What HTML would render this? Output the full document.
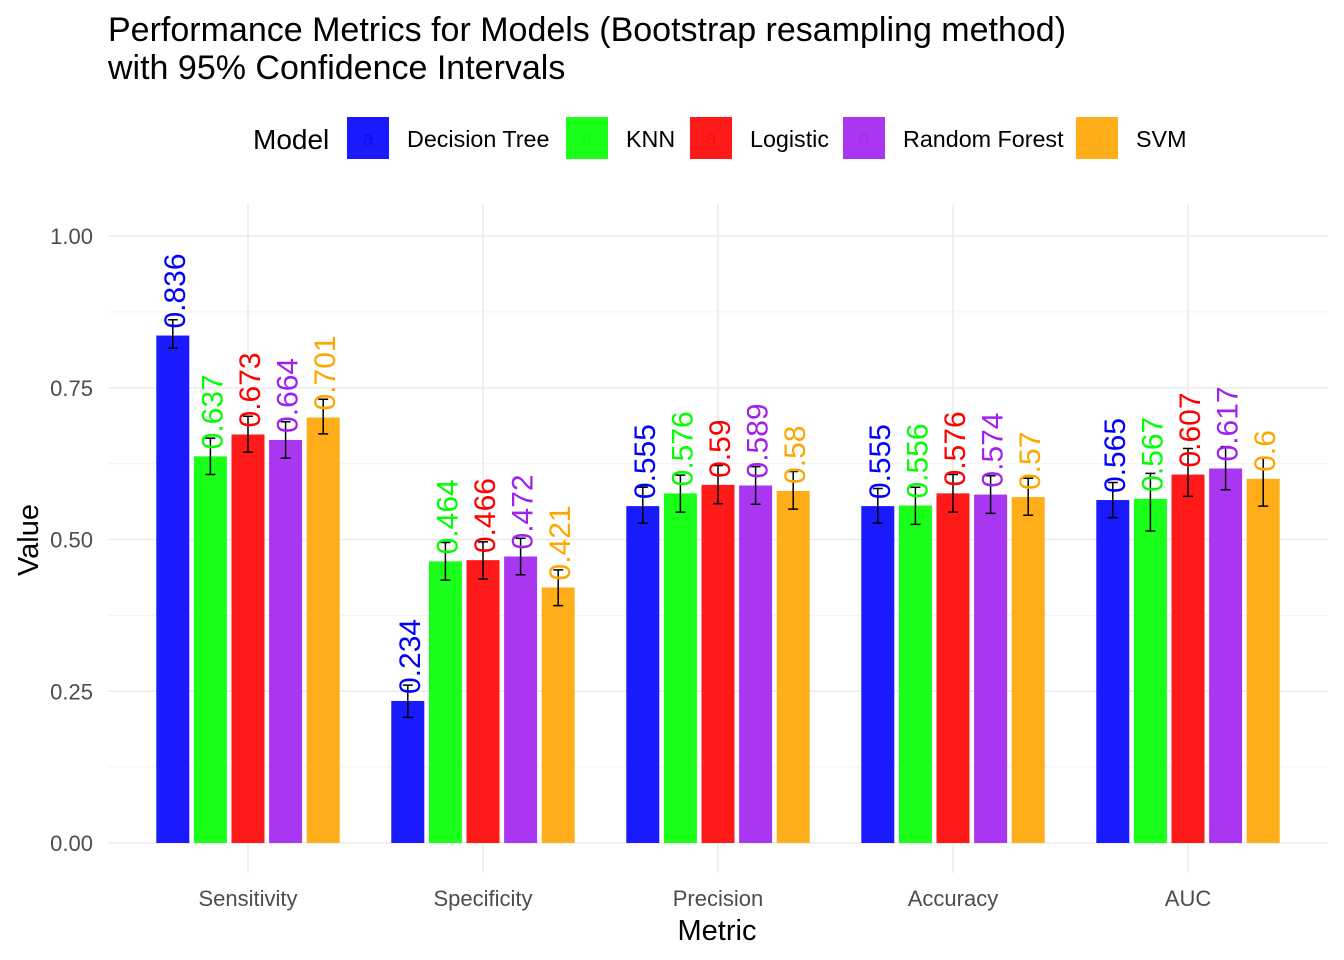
<!DOCTYPE html>
<html><head><meta charset="utf-8"><style>
html,body{margin:0;padding:0;background:#fff;}
svg{display:block;font-family:"Liberation Sans",Arial,sans-serif;}
</style></head><body>
<svg id="chart" width="1344" height="960" viewBox="0 0 1344 960" xmlns="http://www.w3.org/2000/svg">
<rect width="1344" height="960" fill="#fff"/>
<text x="108" y="41" font-size="34" fill="#000">Performance Metrics for Models (Bootstrap resampling method)</text>
<text x="108" y="79" font-size="34" fill="#000">with 95% Confidence Intervals</text>
<g id="grid"></g>
<g id="bars"></g>
<g id="axes"></g>
<g id="legend"></g>
<text x="717" y="940" font-size="29" text-anchor="middle" fill="#000">Metric</text>
<text transform="translate(38,540) rotate(-90)" font-size="29" text-anchor="middle" fill="#000">Value</text>
</svg>
<script>
const metrics = ["Sensitivity","Specificity","Precision","Accuracy","AUC"];
const models = ["Decision Tree","KNN","Logistic","Random Forest","SVM"];
const fillColors = ["#1a1aff","#1aff1a","#ff1a1a","#a936f1","#ffae1a"];
const textColors = ["#0000ff","#00ff00","#ff0000","#a020f0","#ffa500"];
const valDT  = [0.836,0.234,0.555,0.555,0.565];
const valKNN = [0.637,0.464,0.576,0.556,0.567];
const valLog = [0.673,0.466,0.590,0.576,0.607];
const valRF  = [0.664,0.472,0.589,0.574,0.617];
const valSVM = [0.701,0.421,0.580,0.570,0.600];
const lowDT  = [0.815,0.207,0.527,0.527,0.536];
const lowKNN = [0.607,0.433,0.545,0.525,0.514];
const lowLog = [0.644,0.435,0.559,0.545,0.571];
const lowRF  = [0.634,0.442,0.558,0.543,0.582];
const lowSVM = [0.674,0.391,0.550,0.540,0.555];
const upDT   = [0.862,0.260,0.586,0.584,0.594];
const upKNN  = [0.667,0.495,0.606,0.586,0.609];
const upLog  = [0.703,0.496,0.622,0.607,0.650];
const upRF   = [0.694,0.502,0.620,0.605,0.653];
const upSVM  = [0.731,0.450,0.612,0.601,0.634];
const yTicks = [0,0.25,0.5,0.75,1.0];
const yTickLabels = ["0.00","0.25","0.50","0.75","1.00"];
const labDT  = ["0.836","0.234","0.555","0.555","0.565"];
const labKNN = ["0.637","0.464","0.576","0.556","0.567"];
const labLog = ["0.673","0.466","0.59","0.576","0.607"];
const labRF  = ["0.664","0.472","0.589","0.574","0.617"];
const labSVM = ["0.701","0.421","0.58","0.57","0.6"];

const values=[valDT,valKNN,valLog,valRF,valSVM];
const lows=[lowDT,lowKNN,lowLog,lowRF,lowSVM];
const ups=[upDT,upKNN,upLog,upRF,upSVM];
const labs=[labDT,labKNN,labLog,labRF,labSVM];

const NS="http://www.w3.org/2000/svg";
const y = v => 843 - v*607;
const xc = i => 248 + i*235;
const barStep=37.6, barW=33;
const xb = (i,j) => xc(i) + (j-2)*barStep;
function mk(tag,attrs,parent){const e=document.createElementNS(NS,tag);for(const k in attrs)e.setAttribute(k,attrs[k]);parent.appendChild(e);return e;}

const grid=document.getElementById('grid');
for(let k=0;k<yTicks.length-1;k++){
  const m=(yTicks[k]+yTicks[k+1])/2;
  const l=mk('line',{x1:108,x2:1328,y1:y(m),y2:y(m),stroke:'#f3f3f3','stroke-width':1},grid);
  
  
}
yTicks.forEach(t=>{
  const l=mk('line',{x1:108,x2:1328,y1:y(t),y2:y(t),stroke:'#ebebeb','stroke-width':1.5},grid);
  
  
});
metrics.forEach((m,i)=>{
  const l=mk('line',{x1:xc(i),x2:xc(i),y1:204,y2:873,stroke:'#ebebeb','stroke-width':1.5},grid);
  
  
});

const axes=document.getElementById('axes');
yTicks.forEach((t,k)=>{
  const tx=mk('text',{x:93,y:y(t)+8,'font-size':22,'text-anchor':'end',fill:'#4d4d4d'},axes);
  tx.textContent=yTickLabels[k];
  
  
});
metrics.forEach((m,i)=>{
  const tx=mk('text',{x:xc(i),y:906,'font-size':22,'text-anchor':'middle',fill:'#4d4d4d'},axes);
  tx.textContent=m;
  
  
});

const bars=document.getElementById('bars');
metrics.forEach((m,i)=>{
  models.forEach((md,j)=>{
    const v=values[j][i], cx=xb(i,j);
    const r=mk('rect',{x:cx-barW/2,y:y(v),width:barW,height:y(0)-y(v),fill:fillColors[j]},bars);
    
    
    const lo=y(lows[j][i]), hi=y(ups[j][i]);
    const eb=mk('path',{d:`M${cx-5},${hi}H${cx+5}M${cx},${hi}V${lo}M${cx-5},${lo}H${cx+5}`,stroke:'#000','stroke-width':1.5,fill:'none'},bars);
    
    
    const tx=mk('text',{transform:`translate(${cx+12},${y(v)-7}) rotate(-90)`,'font-size':30,fill:textColors[j]},bars);
    tx.textContent=labs[j][i];
    
    
  });
});

const legend=document.getElementById('legend');
const lt=mk('text',{x:253,y:149,'font-size':28,fill:'#000'},legend);
lt.textContent='Model';


const keyX=[347,566,690,843,1076];
models.forEach((md,j)=>{
  const g=mk('g',{},legend);
  
  
  mk('rect',{x:keyX[j],y:117,width:42,height:42,fill:fillColors[j]},g);
  const a=mk('text',{x:keyX[j]+21,y:145,'font-size':20,'text-anchor':'middle',fill:textColors[j],'fill-opacity':0.5},g);
  a.textContent='a';
  const t=mk('text',{x:keyX[j]+60,y:147,'font-size':23.3,fill:'#000'},g);
  t.textContent=md;
});
</script>
</body></html>
